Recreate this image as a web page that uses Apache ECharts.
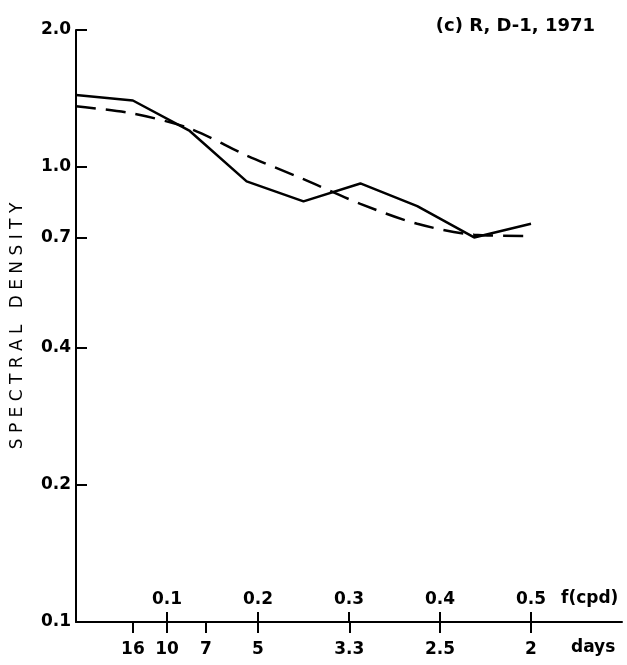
<!DOCTYPE html>
<html><head><meta charset="utf-8">
<script src="https://cdn.jsdelivr.net/npm/echarts@6/dist/echarts.min.js"></script>
<style>html,body{margin:0;padding:0;background:#fff}#c{width:627px;height:665px}</style>
</head><body><div id="c"></div>
<script>
const freqs = [0, 0.0625, 0.125, 0.1875, 0.25, 0.3125, 0.375, 0.4375, 0.5];
const observed = [1.44, 1.40, 1.20, 0.93, 0.84, 0.92, 0.82, 0.70, 0.75];
const fitted = [1.36, 1.31, 1.215, 1.06, 0.94, 0.83, 0.75, 0.71, 0.705];
const yTicks = [0.1, 0.2, 0.4, 0.7, 1.0, 2.0];
const freqTicks = [0.1, 0.2, 0.3, 0.4, 0.5];
const dayTicks = [16, 10, 7, 5, 3.33, 2.5, 2];
const dayLabels = ['16', '10', '7', '5', '3.3', '2.5', '2'];

const FONT = 'DejaVu Sans';
const dayPos = dayTicks.map(d => 1 / d);
const lab = {color: '#000', fontFamily: FONT, fontSize: 17, fontWeight: 'bold'};
const chart = echarts.init(document.getElementById('c'), null, {renderer: 'canvas'});
chart.setOption({
  animation: false,
  backgroundColor: '#fff',
  grid: {left: 76, right: 5, top: 30, bottom: 43},
  xAxis: [{
    type: 'value', min: 0, max: 0.6, position: 'bottom',
    axisLine: {show: true, lineStyle: {color: '#000', width: 2}},
    axisTick: {show: true, inside: true, length: 10, customValues: freqTicks, lineStyle: {color: '#000', width: 2}},
    axisLabel: Object.assign({show: true, inside: true, margin: 14, customValues: freqTicks,
      formatter: v => v.toFixed(1)}, lab),
    splitLine: {show: false}
  }, {
    type: 'value', min: 0, max: 0.6, position: 'bottom',
    axisLine: {show: false},
    axisTick: {show: true, length: 11, customValues: dayPos, lineStyle: {color: '#000', width: 2}},
    axisLabel: Object.assign({show: true, margin: 19, customValues: dayPos,
      formatter: v => { const i = dayPos.findIndex(p => Math.abs(p - v) < 1e-6); return i >= 0 ? dayLabels[i] : ''; }}, lab),
    splitLine: {show: false}
  }],
  yAxis: {
    type: 'log', logBase: 10, min: 0.1, max: 2,
    name: 'S P E C T R A L   D E N S I T Y', nameLocation: 'middle', nameRotate: 90, nameGap: 50,
    nameTextStyle: {color: '#000', fontFamily: FONT, fontSize: 17},
    axisLine: {show: true, lineStyle: {color: '#000', width: 2}},
    axisTick: {show: true, inside: true, length: 11, customValues: yTicks, lineStyle: {color: '#000', width: 2}},
    axisLabel: Object.assign({show: true, margin: 5, customValues: yTicks,
      formatter: v => v >= 1 ? v.toFixed(1) : String(v)}, lab),
    splitLine: {show: false}
  },
  graphic: [
    {type: 'text', right: 32, top: 17, style: {text: '(c) R, D-1, 1971', fill: '#000', font: 'bold 18px "DejaVu Sans"'}},
    {type: 'text', left: 561, top: 590, style: {text: 'f(cpd)', fill: '#000', font: 'bold 17px "DejaVu Sans"'}},
    {type: 'text', left: 571, top: 639, style: {text: 'days', fill: '#000', font: 'bold 17px "DejaVu Sans"'}}
  ],
  series: [{
    type: 'line', name: 'observed', xAxisIndex: 0,
    data: freqs.map((f, i) => [f, observed[i]]),
    showSymbol: false, lineStyle: {color: '#000', width: 2.5}
  }, {
    type: 'line', name: 'fitted', xAxisIndex: 0, smooth: 0.3,
    data: freqs.map((f, i) => [f, fitted[i]]),
    showSymbol: false, lineStyle: {color: '#000', width: 2.5, type: [20, 10]}
  }]
});
</script></body></html>
